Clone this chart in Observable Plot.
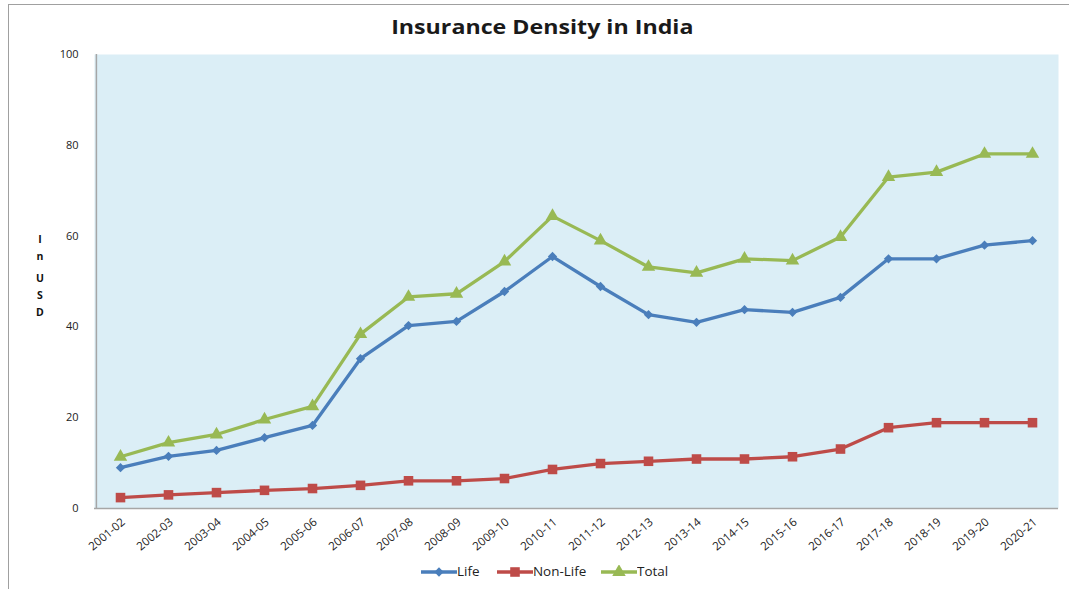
<!DOCTYPE html>
<html>
<head>
<meta charset="utf-8">
<script src="https://cdn.jsdelivr.net/npm/d3@7"></script>
<script src="https://cdn.jsdelivr.net/npm/@observablehq/plot@0.6"></script>
<style>
  html, body { margin: 0; padding: 0; background: #fff; }
  #wrap { position: relative; width: 1069px; height: 589px; font-family: "Open Sans", sans-serif; overflow: hidden; }
  #border { position: absolute; left: 8px; top: 4px; right: -2px; bottom: -2px; border-top: 1.5px solid #a0a0a0; border-left: 1.5px solid #a0a0a0; }
  #title { position: absolute; left: 0; width: 1085px; top: 13px; text-align: center; font-weight: 700; font-size: 20px; color: #1a1a1a; }
  #title span { display: inline-block; transform: scaleX(1.16); }
  #chart { position: absolute; left: 0; top: 40px; }
  #ylab { position: absolute; left: 35px; top: 231px; font-size: 10.5px; font-weight: 700; color: #111; text-align: center; width: 10px; line-height: 17px; }
  #legend { position: absolute; top: 563px; left: 0; width: 1090px; display: flex; justify-content: center; gap: 16px; font-size: 12px; color: #222; }
  #legend span { display: inline-block; transform: scaleX(1.12); transform-origin: left center; margin-right: 4px; }
  .item { display: flex; align-items: center; }
</style>
</head>
<body>
<div id="wrap">
  <div id="border"></div>
  <div id="title"><span>Insurance Density in India</span></div>
  <div id="ylab"><div>I</div><div>n</div><div style="height:5px"></div><div>U</div><div>S</div><div>D</div></div>
  <div id="chart"></div>
  <div id="legend"></div>
</div>
<script>
const years = ["2001-02","2002-03","2003-04","2004-05","2005-06","2006-07","2007-08","2008-09","2009-10","2010-11",
               "2011-12","2012-13","2013-14","2014-15","2015-16","2016-17","2017-18","2018-19","2019-20","2020-21"];
const life    = [9.0, 11.5, 12.8, 15.6, 18.3, 33.0, 40.3, 41.2, 47.8, 55.5, 48.9, 42.7, 41.0, 43.8, 43.2, 46.5, 55.0, 55.0, 58.0, 59.0];
const nonLife = [2.4, 3.0, 3.5, 4.0, 4.4, 5.1, 6.1, 6.1, 6.6, 8.6, 9.9, 10.4, 10.9, 10.9, 11.4, 13.1, 17.8, 18.9, 18.9, 18.9];
const total   = [11.4, 14.5, 16.3, 19.6, 22.5, 38.4, 46.6, 47.3, 54.4, 64.4, 59.0, 53.2, 51.9, 55.0, 54.6, 59.8, 73.0, 74.1, 78.1, 78.1];
const yTicks = [0, 20, 40, 60, 80, 100];

const seriesNames = ["Life", "Non-Life", "Total"];
const seriesValues = [life, nonLife, total];
const colors = ["#4a7ebb", "#be4b48", "#98b954"];
const symbols = ["diamond2", "square", "triangle"];
const radii = [4.2, 5.4, 5.0];

const rows = [];
seriesNames.forEach((s, i) => years.forEach((y, j) => rows.push({series: s, year: y, value: seriesValues[i][j]})));

const marks = [
  Plot.frame({fill: "#dbeef6", stroke: "none"}),
  Plot.ruleY([0], {stroke: "#a6a6a6", strokeWidth: 1.5}),
  Plot.ruleX([0], {x: () => years[0], dx: -24.1, stroke: "#a6a6a6", strokeWidth: 1.5}),
];
seriesNames.forEach((s, i) => {
  const d = rows.filter(r => r.series === s);
  marks.push(Plot.line(d, {x: "year", y: "value", stroke: colors[i], strokeWidth: 3.3}));
});
seriesNames.forEach((s, i) => {
  const d = rows.filter(r => r.series === s);
  marks.push(Plot.dot(d, {x: "year", y: "value", fill: colors[i], stroke: "none", symbol: () => symbols[i], r: radii[i]}));
});
marks.push(Plot.axisY({ticks: yTicks, tickSize: 0, tickPadding: 16, label: null, fontSize: 11}));
marks.push(Plot.axisX({tickSize: 0, tickPadding: 12, tickRotate: -40, label: null, fontSize: 11.5, dx: 3}));

const chart = Plot.plot({
  width: 1069,
  height: 528,
  marginTop: 14,
  marginBottom: 60,
  marginLeft: 94,
  marginRight: 11,
  style: {fontFamily: "Open Sans, sans-serif", fontSize: "11px", color: "#222", background: "transparent", overflow: "visible"},
  x: {type: "point", domain: years, padding: 0.5},
  y: {domain: [0, 100]},
  symbol: {type: "identity"},
  marks
});
document.getElementById("chart").appendChild(chart);

// legend
const leg = document.getElementById("legend");
seriesNames.forEach((s, i) => {
  const item = document.createElement("div");
  item.className = "item";
  const svg = d3.create("svg").attr("width", 36).attr("height", 14);
  svg.append("line").attr("x1", 0).attr("x2", 36).attr("y1", 7).attr("y2", 7).attr("stroke", colors[i]).attr("stroke-width", 3.3);
  const symMap = {diamond2: d3.symbolDiamond2, square: d3.symbolSquare, triangle: d3.symbolTriangle};
  svg.append("path").attr("transform", "translate(18,7)")
    .attr("d", d3.symbol(symMap[symbols[i]], Math.PI * radii[i] * radii[i])())
    .attr("fill", colors[i]);
  item.appendChild(svg.node());
  const t = document.createElement("span");
  t.textContent = s;
  item.appendChild(t);
  leg.appendChild(item);
});
</script>
</body>
</html>
